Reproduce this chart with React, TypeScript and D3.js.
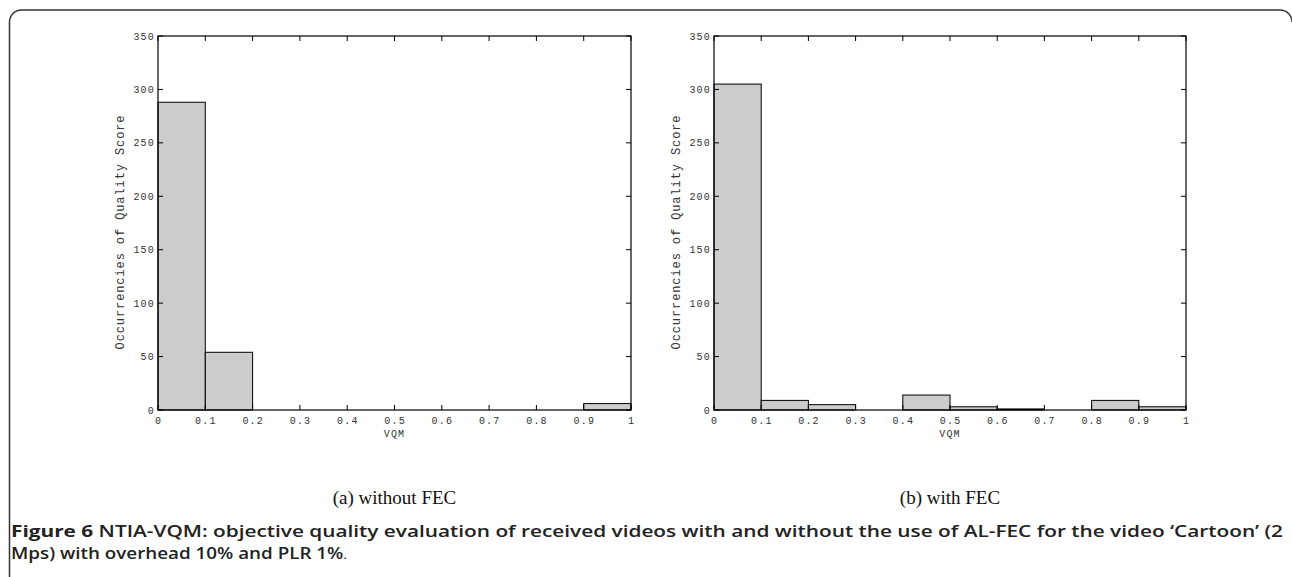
import React from "react";
import * as d3 from "d3";

const binEdges = [0, 0.1, 0.2, 0.3, 0.4, 0.5, 0.6, 0.7, 0.8, 0.9, 1.0];
const countsWithoutFEC = [288, 54, 0, 0, 0, 0, 0, 0, 0, 6];
const countsWithFEC = [305, 9, 5, 0, 14, 3, 1, 0, 9, 3];
const xTicks = [0, 0.1, 0.2, 0.3, 0.4, 0.5, 0.6, 0.7, 0.8, 0.9, 1];
const yTicks = [0, 50, 100, 150, 200, 250, 300, 350];
const subCaptions = ["(a) without FEC", "(b) with FEC"];

const W = 1292;
const H = 577;
const monoFont = "'Liberation Mono', 'DejaVu Sans Mono', monospace";

function Panel({ x0, x1, counts, caption }: { x0: number; x1: number; counts: number[]; caption: string }) {
  const yTop = 36;
  const yBot = 410;
  const x = d3.scaleLinear().domain([0, 1]).range([x0, x1]);
  const y = d3.scaleLinear().domain([0, 350]).range([yBot, yTop]);
  const fmt = (v: number) => (v === 0 ? "0" : v === 1 ? "1" : d3.format(".1f")(v));
  const tl = 5;
  const ls = 1.2;
  return (
    <g>
      {counts.map((c, i) => (
        <rect
          key={i}
          x={x(binEdges[i])}
          y={y(c)}
          width={x(binEdges[i + 1]) - x(binEdges[i])}
          height={Math.max(0, y(0) - y(c))}
          fill="#cccccc"
          stroke="#000"
          strokeWidth={1}
        />
      ))}
      <rect x={x0} y={yTop} width={x1 - x0} height={yBot - yTop} fill="none" stroke="#000" strokeWidth={1.2} />
      {xTicks.map((t, i) => (
        <g key={"x" + i}>
          <line x1={x(t)} x2={x(t)} y1={yBot} y2={yBot - tl} stroke="#000" />
          <line x1={x(t)} x2={x(t)} y1={yTop} y2={yTop + tl} stroke="#000" />
          <text x={x(t) + ls / 2} y={yBot + 14} textAnchor="middle" fontFamily={monoFont} fontSize={10} letterSpacing={ls} fill="#333">
            {fmt(t)}
          </text>
        </g>
      ))}
      {yTicks.map((t, i) => (
        <g key={"y" + i}>
          <line x1={x0} x2={x0 + tl} y1={y(t)} y2={y(t)} stroke="#000" />
          <line x1={x1} x2={x1 - tl} y1={y(t)} y2={y(t)} stroke="#000" />
          <text x={x0 - 3} y={y(t) + 3.5} textAnchor="end" fontFamily={monoFont} fontSize={10} letterSpacing={ls} fill="#333">
            {t}
          </text>
        </g>
      ))}
      <text x={(x0 + x1) / 2} y={yBot + 27} textAnchor="middle" fontFamily={monoFont} fontSize={10} letterSpacing={1.2} fill="#333">
        VQM
      </text>
      <text
        transform={`translate(${x0 - 34},${(yTop + yBot) / 2 + 9}) rotate(-90)`}
        textAnchor="middle"
        fontFamily={monoFont}
        fontSize={12}
        letterSpacing={0.9}
        fill="#333"
      >
        Occurrencies of Quality Score
      </text>
      <text x={(x0 + x1) / 2} y={504} textAnchor="middle" fontFamily="'Liberation Serif', 'DejaVu Serif', serif" fontSize={19} fill="#111">
        {caption}
      </text>
    </g>
  );
}

export default function App() {
  const capFont = "'Open Sans', 'Noto Sans', sans-serif";
  return (
    <svg width={W} height={H} style={{ position: "absolute", left: 0, top: 0, background: "#fff" }}>
      <rect x={0} y={0} width={W} height={H} fill="#fff" />
      <path d={`M9.5,${H} L9.5,22 A12,12 0 0 1 21.5,10 L1280,10 A12,12 0 0 1 1292,22`} fill="none" stroke="#333" strokeWidth={1.5} />
      <Panel x0={158} x1={631} counts={countsWithoutFEC} caption={subCaptions[0]} />
      <Panel x0={714} x1={1186} counts={countsWithFEC} caption={subCaptions[1]} />
      <text x={11} y={537} fontFamily={capFont} fontSize={16} fill="#222" textLength={1272} lengthAdjust="spacingAndGlyphs">
        <tspan fontWeight={700}>Figure 6</tspan>
        <tspan fontWeight={600}> NTIA-VQM: objective quality evaluation of received videos with and without the use of AL-FEC for the video ‘Cartoon’ (2</tspan>
      </text>
      <text x={11} y={559} fontFamily={capFont} fontSize={16} fill="#222" textLength={336} lengthAdjust="spacingAndGlyphs">
        <tspan fontWeight={600}>Mps) with overhead 10% and PLR 1%</tspan>
        <tspan fontSize={12} fontWeight={400}>.</tspan>
      </text>
    </svg>
  );
}
